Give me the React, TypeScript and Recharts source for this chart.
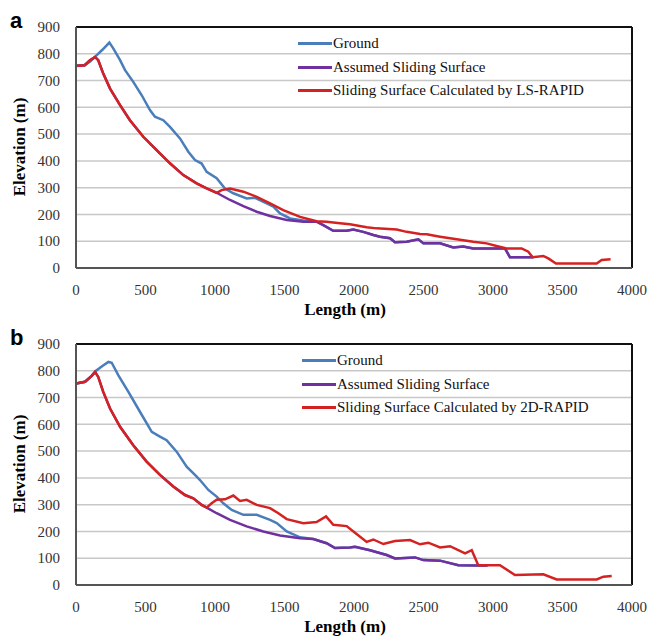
import { LineChart, Line, XAxis, YAxis, CartesianGrid, ReferenceLine } from "recharts"

// panel a: LS-RAPID
const groundAX = [0, 60, 100, 140, 190, 240, 268, 317, 353, 412, 472, 532, 568, 628, 676, 748, 808, 856, 904, 940, 1012, 1072, 1132, 1228, 1288, 1372, 1420, 1468, 1540, 1636, 1731, 1779, 1851, 1947, 1995, 2067, 2139, 2187, 2259, 2295, 2379, 2463, 2499, 2619, 2714, 2786, 2858, 3086, 3122, 3290]
const groundAY = [755, 757, 770, 790, 815, 842, 820, 776, 739, 695, 646, 590, 565, 552, 527, 484, 434, 403, 390, 359, 335, 297, 279, 260, 262, 241, 229, 204, 185, 177, 173, 160, 139, 139, 144, 135, 123, 117, 111, 96, 98, 107, 92, 92, 77, 80, 73, 73, 40, 40]

const assumedAX = [0, 60, 100, 137, 160, 196, 245, 317, 388, 484, 580, 676, 772, 868, 940, 1012, 1108, 1204, 1300, 1396, 1516, 1636, 1731, 1779, 1851, 1947, 1995, 2067, 2139, 2187, 2259, 2295, 2379, 2463, 2499, 2619, 2714, 2786, 2858, 3086, 3122, 3290]
const assumedAY = [755, 757, 776, 788, 776, 726, 670, 608, 552, 490, 440, 391, 347, 316, 297, 281, 254, 231, 210, 194, 179, 173, 173, 160, 139, 139, 144, 135, 123, 117, 111, 96, 98, 107, 92, 92, 77, 80, 73, 73, 40, 40]

const slidingAX = [0, 65, 101, 137, 160, 196, 245, 317, 388, 484, 580, 676, 772, 868, 940, 1012, 1048, 1108, 1204, 1300, 1396, 1491, 1612, 1731, 1803, 1899, 1971, 2091, 2163, 2307, 2379, 2475, 2523, 2619, 2739, 2858, 2954, 3026, 3098, 3206, 3254, 3285, 3362, 3398, 3453, 3746, 3782, 3846]
const slidingAY = [754, 757, 776, 788, 776, 726, 670, 608, 552, 490, 440, 391, 347, 316, 297, 281, 291, 297, 285, 266, 241, 216, 191, 175, 173, 167, 163, 152, 148, 144, 135, 127, 126, 117, 107, 98, 92, 82, 73, 73, 61, 40, 45, 36, 17, 17, 30, 33]

// panel b: 2D-RAPID
const groundBX = [0, 65, 113, 149, 190, 233, 257, 305, 377, 460, 545, 604, 652, 724, 796, 856, 892, 952, 1012, 1060, 1120, 1204, 1300, 1396, 1444, 1516, 1612, 1707, 1803, 1863, 1971, 2007, 2115, 2235, 2295, 2439, 2499, 2619, 2751, 2894, 2960]
const groundBY = [752, 759, 781, 802, 818, 833, 830, 783, 721, 647, 572, 554, 541, 498, 442, 411, 392, 355, 330, 305, 280, 262, 262, 243, 231, 200, 178, 172, 156, 138, 140, 143, 130, 112, 99, 103, 93, 91, 74, 73, 73]

const assumedBX = [0, 65, 113, 137, 160, 196, 245, 317, 412, 508, 604, 700, 784, 844, 904, 940, 1012, 1108, 1228, 1348, 1468, 1612, 1707, 1803, 1863, 1971, 2007, 2115, 2235, 2295, 2439, 2499, 2619, 2751, 2894, 2960]
const assumedBY = [752, 759, 781, 796, 777, 721, 659, 591, 522, 461, 411, 368, 336, 324, 299, 289, 268, 243, 219, 200, 185, 175, 172, 156, 138, 140, 143, 130, 112, 99, 103, 93, 91, 74, 73, 73]

const slidingBX = [0, 65, 113, 137, 160, 196, 245, 317, 412, 508, 604, 700, 784, 844, 904, 940, 976, 1012, 1072, 1132, 1180, 1228, 1300, 1396, 1456, 1516, 1635, 1731, 1799, 1851, 1947, 2007, 2091, 2139, 2211, 2295, 2403, 2475, 2535, 2619, 2691, 2799, 2847, 2894, 3050, 3158, 3362, 3458, 3746, 3794, 3854]
const slidingBY = [752, 759, 781, 796, 777, 721, 659, 591, 522, 461, 411, 368, 336, 324, 299, 289, 305, 318, 320, 334, 314, 318, 299, 287, 268, 246, 231, 235, 256, 225, 220, 195, 161, 170, 153, 164, 168, 152, 158, 140, 145, 118, 130, 74, 74, 37, 40, 21, 21, 31, 34]

const xTicks = [0, 500, 1000, 1500, 2000, 2500, 3000, 3500, 4000]
const yTicks = [0, 100, 200, 300, 400, 500, 600, 700, 800, 900]

const BLUE = "#4a7ebb"
const PURPLE = "#7030a0"
const RED = "#d42222"
const serif = "'Liberation Serif', 'Times New Roman', serif"

const pts = (xs: number[], ys: number[]) => xs.map((x, i) => ({ x, y: ys[i] }))

// serif tick labels (the default Text renderer ignored the font)
const XTick = ({ x, y, payload }: any) => (
  <text x={x} y={y + 8} dy="0.71em" textAnchor="middle" fill="#333" style={{ fontFamily: serif, fontSize: 15 }}>
    {payload.value}
  </text>
)
const YTick = ({ x, y, payload }: any) => (
  <text x={x - 8} y={y} dy="0.35em" textAnchor="end" fill="#333" style={{ fontFamily: serif, fontSize: 15 }}>
    {payload.value}
  </text>
)

function LegendBox({ method, left, top }: { method: string; left: number; top: number }) {
  const items = [
    { name: "Ground", color: BLUE },
    { name: "Assumed Sliding Surface", color: PURPLE },
    { name: "Sliding Surface Calculated by " + method, color: RED },
  ]
  return (
    <div style={{ position: "absolute", left, top, fontFamily: serif, fontSize: 15, color: "#111" }}>
      {items.map((it) => (
        <div key={it.name} style={{ display: "flex", alignItems: "center", height: 23.5 }}>
          <span style={{ display: "inline-block", width: 34, height: 3, background: it.color, marginRight: 1 }} />
          <span>{it.name}</span>
        </div>
      ))}
    </div>
  )
}

function Panel({ letter, method, ground, assumed, sliding, legendLeft, top }: any) {
  return (
    <div style={{ position: "absolute", left: 0, top, width: 651, height: 320, fontFamily: serif }}>
      <LineChart width={651} height={320} margin={{ top: 27, right: 19, bottom: 0, left: 0 }}>
        <CartesianGrid vertical={false} stroke="#c8c8c8" strokeWidth={1.5} />
        <XAxis
          dataKey="x"
          type="number"
          domain={[0, 4000]}
          ticks={xTicks}
          interval={0}
          allowDataOverflow
          height={52}
          tickLine={false}
          axisLine={{ stroke: "#555", strokeWidth: 2 }}
          tick={<XTick />}
        />
        <YAxis
          type="number"
          domain={[0, 900]}
          ticks={yTicks}
          interval={0}
          width={76}
          tickLine={false}
          axisLine={{ stroke: "#555", strokeWidth: 2 }}
          tick={<YTick />}
        />
        <ReferenceLine y={900} stroke="#111" strokeWidth={2} />
        <ReferenceLine x={4000} stroke="#111" strokeWidth={2} />
        <Line data={ground} dataKey="y" stroke={BLUE} strokeWidth={2.5} dot={false} isAnimationActive={false} name="Ground" />
        <Line data={assumed} dataKey="y" stroke={PURPLE} strokeWidth={2.5} dot={false} isAnimationActive={false} name="Assumed Sliding Surface" />
        <Line data={sliding} dataKey="y" stroke={RED} strokeWidth={2.5} dot={false} isAnimationActive={false} name={"Sliding Surface Calculated by " + method} />
      </LineChart>
      <LegendBox method={method} left={legendLeft} top={32} />
      <div style={{ position: "absolute", left: 10, top: 8, fontFamily: "'Liberation Sans', Arial, sans-serif", fontWeight: "bold", fontSize: 22 }}>
        {letter}
      </div>
      <div
        style={{
          position: "absolute",
          left: 20,
          top: 147,
          transform: "translate(-50%, -50%) rotate(-90deg)",
          fontWeight: "bold",
          fontSize: 17,
          whiteSpace: "nowrap",
        }}
      >
        Elevation (m)
      </div>
      <div
        style={{
          position: "absolute",
          left: 345,
          top: 310,
          transform: "translate(-50%, -50%)",
          fontWeight: "bold",
          fontSize: 17,
          whiteSpace: "nowrap",
        }}
      >
        Length (m)
      </div>
    </div>
  )
}

export default function App() {
  return (
    <div style={{ position: "absolute", left: 0, top: 0, width: 651, height: 638, background: "#fff" }}>
      <Panel
        letter="a"
        method="LS-RAPID"
        ground={pts(groundAX, groundAY)}
        assumed={pts(assumedAX, assumedAY)}
        sliding={pts(slidingAX, slidingAY)}
        legendLeft={298}
        top={0}
      />
      <Panel
        letter="b"
        method="2D-RAPID"
        ground={pts(groundBX, groundBY)}
        assumed={pts(assumedBX, assumedBY)}
        sliding={pts(slidingBX, slidingBY)}
        legendLeft={302}
        top={317}
      />
    </div>
  )
}
